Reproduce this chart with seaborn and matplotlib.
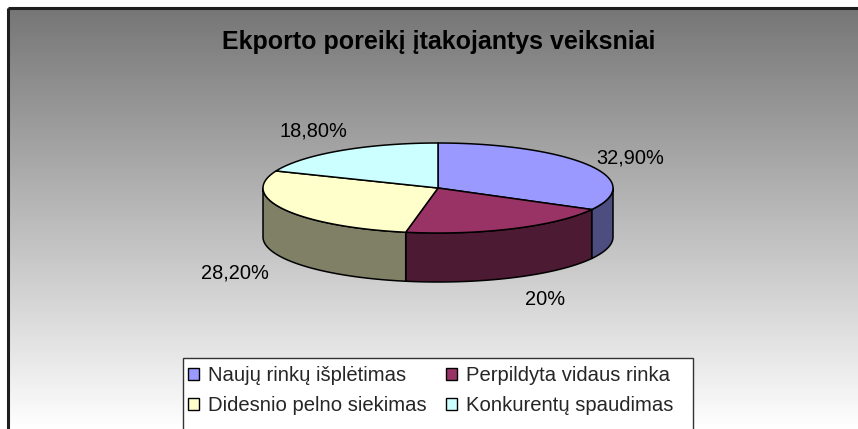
import numpy as np
import matplotlib
matplotlib.use("Agg")
import matplotlib.pyplot as plt
from matplotlib.patches import Polygon, Patch, Rectangle
from matplotlib.colors import LinearSegmentedColormap, to_rgb
import seaborn as sns

# Chart content
title = "Ekporto poreikį įtakojantys veiksniai"
categories = ["Naujų rinkų išplėtimas", "Perpildyta vidaus rinka",
              "Didesnio pelno siekimas", "Konkurentų spaudimas"]
shares = [32.9, 20.0, 28.2, 18.8]
value_labels = ["32,90%", "20%", "28,20%", "18,80%"]

sns.set_style("white")
plt.rcParams["font.family"] = ["Liberation Sans", "DejaVu Sans"]

palette = sns.color_palette(["#9999FF", "#993366", "#FFFFCC", "#CCFFFF"])
side_palette = [tuple(c * 0.5 for c in to_rgb(col)) for col in palette]

W, H = 858, 429
fig = plt.figure(figsize=(W / 100, H / 100), dpi=100)
ax = fig.add_axes([0, 0, 1, 1])
ax.set_xlim(0, W)
ax.set_ylim(H, 0)
ax.axis("off")

# chart area: vertical grey-to-white gradient
grad = np.linspace(0, 1, 256)[:, None]
cmap = LinearSegmentedColormap.from_list("bg", ["#767676", "#ffffff"])
ax.imshow(grad, extent=[8, W, H, 8], cmap=cmap, aspect="auto", zorder=0,
          interpolation="bilinear")
ax.plot([8, 8], [H, 8], color="#1e1e1e", lw=2.2, zorder=1, solid_capstyle="butt")
ax.plot([8, W], [8, 8], color="#1e1e1e", lw=2.2, zorder=1, solid_capstyle="butt")

ax.text(439, 42, title, ha="center", va="center", fontsize=18,
        fontweight="bold", color="black", zorder=5)

# 3D pie geometry
cx, cy, rx, ry, depth = 438, 188, 175, 45, 49
total = float(sum(shares))
bounds = 90 - 360 * np.concatenate([[0], np.cumsum(shares)]) / total


def rim(t_deg, dy=0.0):
    t = np.radians(t_deg)
    return np.column_stack([cx + rx * np.cos(t), cy - ry * np.sin(t) + dy])


# side walls (front half only)
for i in range(len(shares)):
    a, b = bounds[i + 1], bounds[i]
    lo, hi = max(a, -180), min(b, 0)
    if hi <= lo:
        continue
    ts = np.linspace(lo, hi, 80)
    top = rim(ts)
    bot = rim(ts[::-1], depth)
    ax.add_patch(Polygon(np.vstack([top, bot]), closed=True,
                         facecolor=side_palette[i], edgecolor="black",
                         lw=1.1, zorder=2, joinstyle="round"))

# top faces
for i in range(len(shares)):
    a, b = bounds[i + 1], bounds[i]
    ts = np.linspace(b, a, 120)
    pts = np.vstack([[cx, cy], rim(ts)])
    ax.add_patch(Polygon(pts, closed=True, facecolor=palette[i],
                         edgecolor="black", lw=1.1, zorder=3, joinstyle="round"))

# value labels around the pie, with small per-label nudges (pixels)
label_nudge = [(4, 7), (13, -3), (-11, 2), (-3, 3)]
for i, lab in enumerate(value_labels):
    mid = np.radians((bounds[i] + bounds[i + 1]) / 2)
    x = cx + rx * 1.25 * np.cos(mid) + label_nudge[i][0]
    y = cy - ry * 1.6 * np.sin(mid) + label_nudge[i][1]
    if np.sin(mid) < 0:
        y += depth
    ax.text(x, y, lab, ha="center", va="center", fontsize=14.4,
            color="black", zorder=5)

# legend box and entries laid out row by row in two columns
ax.add_patch(Rectangle((183, 358), 510, 75, facecolor="white",
                       edgecolor="#333333", lw=1.0, zorder=6))
handles = [Patch(facecolor=palette[i], edgecolor="black", lw=1.0)
           for i in range(len(categories))]
order = [0, 2, 1, 3]
leg = ax.legend([handles[i] for i in order], [categories[i] for i in order],
                ncol=2, loc="upper left",
                bbox_to_anchor=(188 / W, 1 - 366 / H),
                bbox_transform=fig.transFigure, frameon=False,
                fontsize=14.6, handlelength=0.55,
                handleheight=0.55, handletextpad=0.45, columnspacing=0.95,
                borderpad=0.0, labelspacing=0.55, borderaxespad=0)
leg.set_zorder(7)

fig.savefig("out.png", dpi=100)
